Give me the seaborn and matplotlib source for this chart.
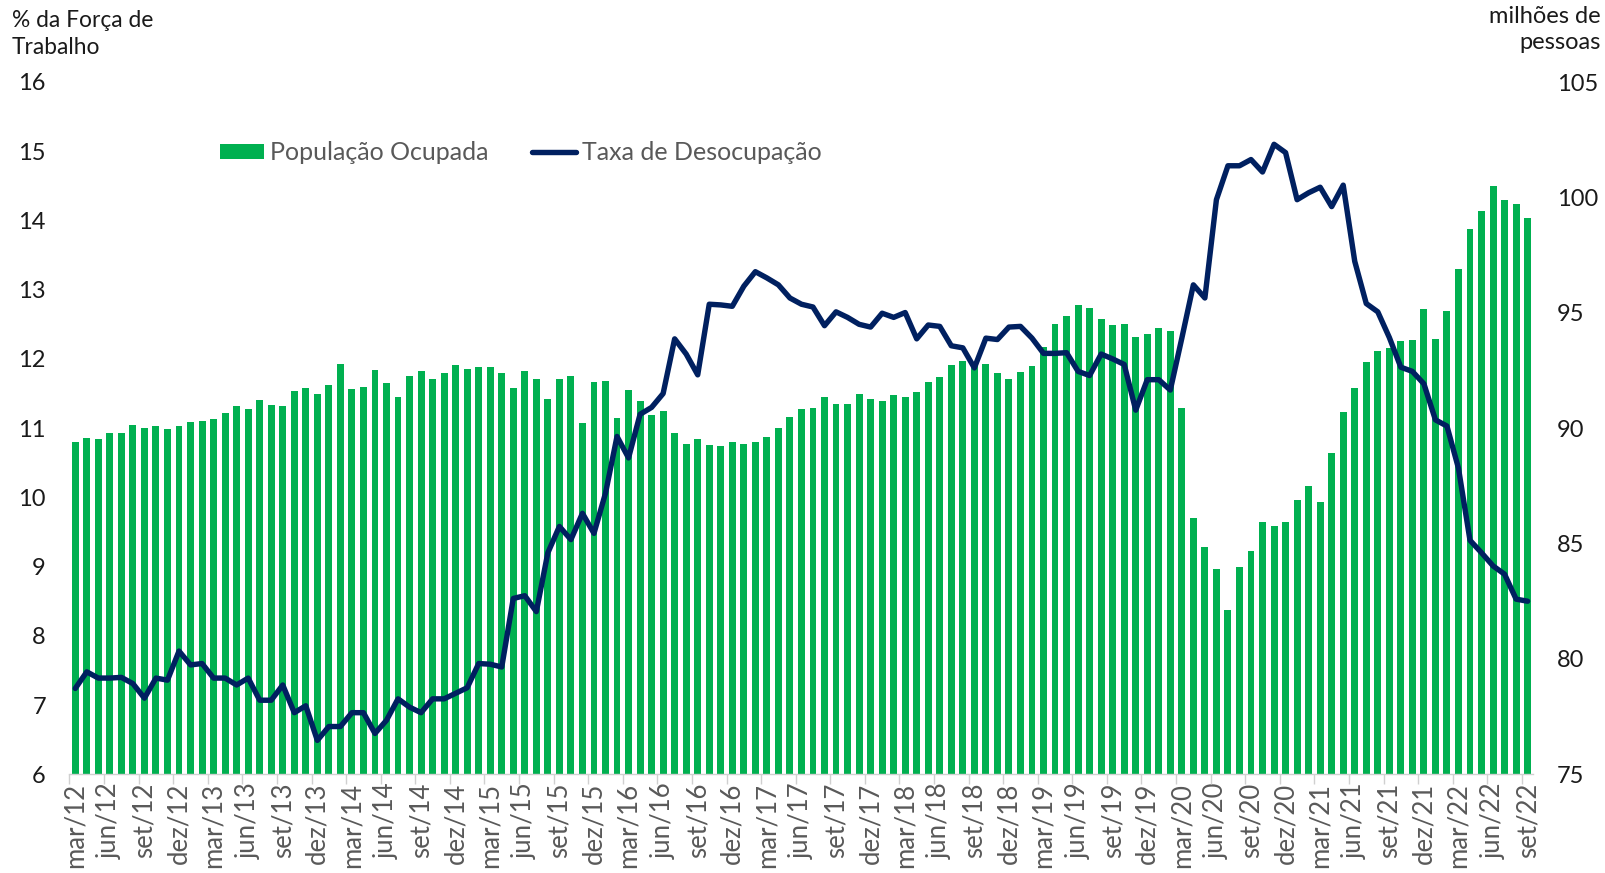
import numpy as np
import pandas as pd
import matplotlib
matplotlib.use("Agg")
import matplotlib.pyplot as plt
from matplotlib.patches import Patch
from matplotlib.lines import Line2D
import seaborn as sns

# ---------------- data ----------------
month_names = ['jan', 'fev', 'mar', 'abr', 'mai', 'jun', 'jul', 'ago', 'set', 'out', 'nov', 'dez']
start_year = 2012
start_month_idx = 2   # mar
n_months = 127        # mar/12 .. set/22

# População ocupada (milhões de pessoas)
populacao_ocupada = [
    89.38, 89.58, 89.52, 89.77, 89.77, 90.14, 90.01, 90.10, 89.95, 90.10,
    90.27, 90.33, 90.39, 90.65, 90.94, 90.85, 91.23, 91.02, 90.98, 91.60,
    91.75, 91.46, 91.88, 92.78, 91.69, 91.79, 92.54, 91.94, 91.36, 92.25,
    92.48, 92.11, 92.37, 92.73, 92.58, 92.63, 92.63, 92.40, 91.75, 92.48,
    92.15, 91.26, 92.11, 92.25, 90.23, 92.02, 92.06, 90.46, 91.65, 91.17,
    90.56, 90.75, 89.81, 89.33, 89.52, 89.29, 89.23, 89.42, 89.33, 89.38,
    89.62, 90.01, 90.50, 90.81, 90.89, 91.33, 91.04, 91.04, 91.50, 91.27,
    91.18, 91.44, 91.36, 91.56, 91.98, 92.21, 92.73, 92.92, 92.85, 92.80,
    92.37, 92.12, 92.43, 92.69, 93.52, 94.51, 94.87, 95.32, 95.19, 94.75,
    94.49, 94.52, 93.96, 94.06, 94.32, 94.20, 90.89, 86.10, 84.84, 83.88,
    82.14, 83.99, 84.69, 85.95, 85.77, 85.95, 86.87, 87.51, 86.78, 88.94,
    90.71, 91.76, 92.88, 93.35, 93.46, 93.77, 93.81, 95.15, 93.86, 95.09,
    96.90, 98.64, 99.40, 100.49, 99.87, 99.73, 99.10,
]

# Taxa de desocupação (% da força de trabalho)
taxa_desocupacao = [
    7.24, 7.48, 7.39, 7.39, 7.40, 7.31, 7.10, 7.39, 7.36, 7.78,
    7.58, 7.60, 7.39, 7.39, 7.29, 7.39, 7.07, 7.07, 7.29, 6.89,
    6.99, 6.49, 6.69, 6.69, 6.89, 6.89, 6.59, 6.78, 7.09, 6.97,
    6.89, 7.09, 7.09, 7.17, 7.25, 7.60, 7.59, 7.55, 8.54, 8.58,
    8.35, 9.20, 9.58, 9.39, 9.77, 9.48, 10.06, 10.88, 10.57, 11.20,
    11.30, 11.50, 12.29, 12.07, 11.77, 12.79, 12.78, 12.76, 13.05, 13.26,
    13.17, 13.07, 12.88, 12.79, 12.75, 12.48, 12.68, 12.60, 12.50, 12.46,
    12.66, 12.60, 12.67, 12.29, 12.49, 12.47, 12.19, 12.16, 11.87, 12.30,
    12.28, 12.46, 12.47, 12.30, 12.08, 12.08, 12.09, 11.82, 11.76, 12.07,
    12.00, 11.92, 11.26, 11.70, 11.70, 11.55, 12.30, 13.07, 12.88, 14.30,
    14.79, 14.79, 14.88, 14.70, 15.10, 14.98, 14.30, 14.40, 14.48, 14.20,
    14.51, 13.41, 12.80, 12.68, 12.31, 11.88, 11.82, 11.64, 11.12, 11.03,
    10.42, 9.38, 9.20, 9.01, 8.89, 8.53, 8.50,
]

meses = []
for k in range(n_months):
    m = start_month_idx + k
    meses.append(f"{month_names[m % 12]}/{(start_year + m // 12) % 100:02d}")

left_ticks = [6, 7, 8, 9, 10, 11, 12, 13, 14, 15, 16]
right_ticks = [75, 80, 85, 90, 95, 100, 105]

df = pd.DataFrame({"mes": meses, "ocupada": populacao_ocupada, "taxa": taxa_desocupacao})
df["pos"] = np.arange(len(df))

# ---------------- style ----------------
sns.set_theme(style="white")
plt.rcParams['font.family'] = ['Lato', 'DejaVu Sans']

GREEN = "#00B050"
NAVY = "#002060"
FS = 17

fig = plt.figure(figsize=(16.06, 8.73), dpi=100)
ax = fig.add_axes([69.5 / 1606, 1 - 774.3 / 873, (1533.4 - 69.5) / 1606, (774.3 - 82) / 873])

sns.barplot(data=df, x="mes", y="ocupada", ax=ax, color=GREEN, saturation=1,
            width=0.6, linewidth=0, zorder=2)
ax.set_ylim(right_ticks[0], right_ticks[-1])
ax.set_xlim(-0.5, len(df) - 0.5)

ax2 = ax.twinx()
sns.lineplot(data=df, x="pos", y="taxa", ax=ax2, color=NAVY, linewidth=3.9,
             solid_joinstyle="round", solid_capstyle="round")
ax2.set_ylim(left_ticks[0], left_ticks[-1])
ax2.set_xlim(-0.5, len(df) - 0.5)

# y axes: left = taxa (ax2), right = ocupada (ax)
ax.yaxis.tick_right()
ax.yaxis.set_label_position("right")
ax2.yaxis.tick_left()
ax2.yaxis.set_label_position("left")
ax.set_yticks(right_ticks)
ax.set_yticklabels([str(t) for t in right_ticks])
ax2.set_yticks(left_ticks)
ax2.set_yticklabels([str(t) for t in left_ticks])
ax.tick_params(axis="y", length=0, pad=17, labelsize=FS, labelcolor="#1a1a1a")
ax2.tick_params(axis="y", length=0, pad=17, labelsize=FS, labelcolor="#1a1a1a")
for t in ax.get_yticklabels():
    t.set_horizontalalignment("left")

# x axis
ax.set_xticks(df["pos"][::3])
ax.set_xticklabels(df["mes"][::3], rotation=90)
ax.set_xticks(np.arange(-0.5, len(df), 3), minor=True)
ax.tick_params(axis="x", which="major", length=0, pad=6, labelsize=18.5, labelcolor="#595959")
ax.tick_params(axis="x", which="minor", length=7, width=1, color="#D0D0D0", bottom=True)

for a in (ax, ax2):
    a.set_xlabel("")
    a.set_ylabel("")
    for s in a.spines.values():
        s.set_visible(False)
ax.spines["bottom"].set_visible(True)
ax.spines["bottom"].set_color("#D0D0D0")
ax.spines["bottom"].set_linewidth(1)
ax.grid(False)
ax2.grid(False)

# axis titles
fig.text(12 / 1606, 1 - 10 / 873, "% da Força de\nTrabalho", ha="left", va="top",
         fontsize=16.4, color="#1a1a1a", linespacing=1.35)
fig.text(1601 / 1606, 1 - 6 / 873, "milhões de\npessoas", ha="right", va="top",
         fontsize=FS, color="#1a1a1a", linespacing=1.3)

# legend
handles = [Patch(facecolor=GREEN, edgecolor="none"),
           Line2D([0], [0], color=NAVY, linewidth=3.9, solid_capstyle="round")]
leg = fig.legend(handles, ["População Ocupada", "Taxa de Desocupação"],
                 loc="center left", bbox_to_anchor=(220 / 1606, 1 - 152.6 / 873),
                 ncol=2, frameon=False, fontsize=18, handlelength=1.75,
                 handleheight=0.55, handletextpad=0.25, columnspacing=1.75,
                 borderpad=0, borderaxespad=0)
for t in leg.get_texts():
    t.set_color("#595959")

fig.savefig("out.png", dpi=100)
